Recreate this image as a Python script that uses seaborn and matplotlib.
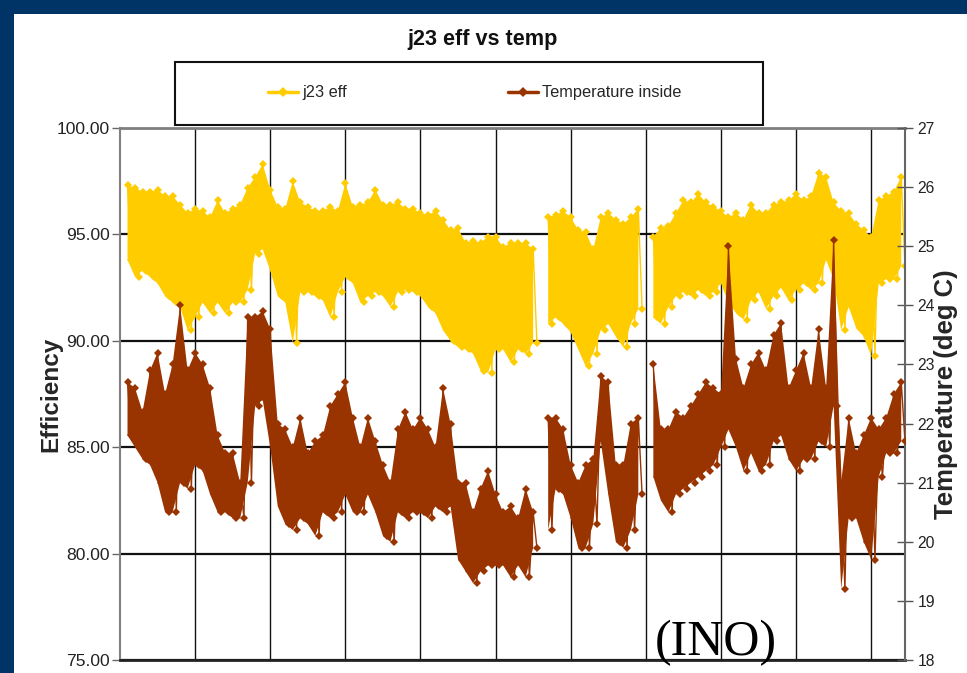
import numpy as np
import pandas as pd
import matplotlib
matplotlib.use("Agg")
import matplotlib.pyplot as plt
from matplotlib import font_manager as fm
from matplotlib.lines import Line2D
from matplotlib.patches import Rectangle
import seaborn as sns

# ---- data: logged every 0.1 day, band envelope (high / low) of each series ----
day = np.round(np.arange(1, 105) * 0.1, 2)
nan = np.nan

eff_hi = [97.3, 97.2, 97.0, 97.0, 97.1, 96.8, 96.8, 96.4, 96.0, 96.2,
          96.1, 95.8, 96.6, 96.0, 96.2, 96.4, 97.2, 97.7, 98.3, 97.1,
          96.3, 96.2, 97.5, 96.5, 96.3, 96.1, 96.1, 96.3, 96.1, 97.4,
          96.3, 96.4, 96.5, 97.1, 96.4, 96.4, 96.5, 96.2, 96.2, 96.0,
          95.9, 96.1, 95.7, 95.2, 95.3, 94.6, 94.7, 94.6, 94.9, 94.9,
          94.4, 94.6, 94.6, 94.6, 94.3, nan, 95.8, 95.9, 96.1, 95.8,
          95.2, 95.1, 94.3, 95.8, 96.0, 95.7, 95.5, 95.8, 96.2, nan,
          94.9, 95.3, 95.4, 96.0, 96.6, 96.5, 96.9, 96.5, 96.3, 96.1,
          95.8, 96.0, 95.7, 96.4, 96.0, 96.0, 96.4, 96.5, 96.6, 96.9,
          96.6, 96.8, 97.9, 97.7, 96.5, 96.1, 96.0, 95.5, 95.2, 94.9,
          96.6, 96.8, 97.0, 97.7]
eff_lo = [93.8, 93.0, 93.3, 93.0, 92.7, 92.1, 91.8, 91.6, 90.5, 91.1,
          91.8, 91.3, 91.8, 91.3, 91.8, 91.8, 92.4, 94.1, 94.3, 93.3,
          92.1, 91.8, 89.9, 92.3, 92.3, 92.1, 91.9, 91.1, 92.3, 93.0,
          92.7, 91.8, 92.1, 92.3, 92.1, 91.6, 92.3, 92.4, 92.3, 92.1,
          91.6, 91.3, 90.5, 90.0, 89.7, 89.6, 89.4, 88.6, 88.5, 89.6,
          89.6, 89.0, 89.6, 89.4, 89.9, nan, 90.8, 91.1, 90.8, 90.4,
          89.6, 88.8, 89.4, 90.5, 90.8, 90.2, 89.7, 90.8, 91.5, nan,
          91.1, 90.8, 91.6, 92.1, 92.3, 92.1, 92.4, 92.1, 92.3, 92.7,
          91.8, 91.3, 91.0, 91.9, 92.3, 91.5, 92.1, 92.5, 91.9, 92.4,
          92.7, 92.4, 92.7, 93.8, 92.9, 90.5, 91.6, 90.6, 90.2, 89.3,
          92.7, 92.9, 92.9, 93.5]

temp_hi = [22.7, 22.6, 22.2, 22.9, 23.2, 22.5, 23.0, 24.0, 22.9, 23.2,
           23.0, 22.6, 21.8, 21.5, 21.5, 21.0, 23.8, 23.8, 23.9, 23.6,
           22.0, 21.9, 21.6, 22.1, 21.5, 21.7, 21.8, 22.3, 22.5, 22.7,
           22.1, 21.6, 22.1, 21.7, 21.3, 21.0, 21.9, 22.2, 21.9, 22.1,
           21.9, 21.6, 22.6, 22.0, 21.0, 21.0, 20.5, 20.9, 21.2, 20.8,
           20.5, 20.6, 20.4, 20.9, 20.5, nan, 22.1, 22.1, 21.9, 21.3,
           21.0, 21.3, 21.4, 22.8, 22.7, 21.3, 21.3, 22.0, 22.1, nan,
           23.0, 21.9, 21.9, 22.2, 22.1, 22.3, 22.5, 22.7, 22.6, 22.5,
           25.0, 23.1, 22.6, 23.0, 23.2, 22.9, 23.5, 23.7, 22.6, 22.9,
           23.2, 22.6, 23.6, 22.6, 25.1, 21.0, 22.1, 21.5, 21.8, 22.1,
           21.9, 22.1, 22.5, 22.7]
temp_lo = [21.8, 21.6, 21.4, 21.3, 21.0, 20.5, 20.5, 21.0, 20.9, 21.3,
           21.2, 20.8, 20.5, 20.5, 20.4, 20.4, 21.0, 22.3, 22.4, 21.6,
           20.6, 20.3, 20.2, 20.4, 20.3, 20.1, 20.5, 20.4, 20.5, 20.8,
           20.5, 20.5, 20.8, 20.5, 20.1, 20.0, 20.5, 20.4, 20.5, 20.5,
           20.4, 20.6, 20.5, 20.6, 19.7, 19.5, 19.3, 19.5, 19.6, 19.6,
           19.6, 19.4, 19.6, 19.4, 19.9, nan, 20.2, 20.9, 20.8, 20.4,
           19.9, 19.9, 20.3, 21.7, 20.8, 20.0, 19.9, 20.2, 20.8, nan,
           21.1, 20.7, 20.5, 20.8, 20.9, 21.0, 21.1, 21.2, 21.3, 21.6,
           21.9, 21.6, 21.2, 21.5, 21.2, 21.3, 21.7, 21.8, 21.4, 21.2,
           21.4, 21.4, 21.7, 21.6, 22.3, 19.2, 20.4, 20.4, 20.0, 19.7,
           21.1, 21.5, 21.5, 21.7]

eff_ticks = [75, 80, 85, 90, 95, 100]
temp_ticks = list(range(18, 28))
day_ticks = list(range(1, 11))
series_names = ["j23 eff", "Temperature inside"]

# ---- style ----
sns.set_style("white")
names = {f.name for f in fm.fontManager.ttflist}
NARROW = "Liberation Sans Narrow" if "Liberation Sans Narrow" in names else "Liberation Sans"
k = 1.0 if NARROW == "Liberation Sans Narrow" else 0.84
plt.rcParams["font.family"] = [NARROW, "DejaVu Sans"]
BOLD_FAMILY = ["Liberation Sans", "DejaVu Sans"]

NAVY = "#003366"
GOLD = "#FFCC00"
BROWN = "#993300"
W, H = 967, 673


def zigzag(hi, lo):
    """Trace high/low points alternately so the line sweeps the band."""
    hi = np.asarray(hi, float)
    lo = np.asarray(lo, float)
    seg = np.cumsum(np.isnan(hi))
    ok = ~np.isnan(hi)
    t = np.column_stack([day, day + 0.05]).ravel()
    v = np.column_stack([hi, lo]).ravel()
    s = np.repeat(seg, 2)
    m = np.repeat(ok, 2)
    return pd.DataFrame({"day": t[m], "value": v[m], "seg": s[m]})


fig = plt.figure(figsize=(W / 100, H / 100), dpi=100)
fig.patch.set_facecolor(NAVY)
fig.add_artist(Rectangle((14 / W, 0), 1, 1 - 14 / H, transform=fig.transFigure,
                         facecolor="white", edgecolor="none", zorder=-1))

ax = fig.add_axes([120 / W, 1 - 660 / H, 785 / W, 532 / H])
ax.set_facecolor("white")
ax2 = ax.twinx()
ax2.patch.set_visible(False)

# efficiency band (left axis)
ax.fill_between(day, np.ma.masked_invalid(eff_lo), np.ma.masked_invalid(eff_hi),
                color=GOLD, lw=0, zorder=2)
sns.lineplot(data=zigzag(eff_hi, eff_lo), x="day", y="value", units="seg",
             estimator=None, sort=False, color=GOLD, lw=1.0, marker="D",
             markersize=4, markeredgewidth=0, ax=ax, legend=False, zorder=3)

# temperature band (right axis)
ax2.fill_between(day, np.ma.masked_invalid(temp_lo), np.ma.masked_invalid(temp_hi),
                 color=BROWN, lw=0, zorder=2)
sns.lineplot(data=zigzag(temp_hi, temp_lo), x="day", y="value", units="seg",
             estimator=None, sort=False, color=BROWN, lw=1.0, marker="D",
             markersize=4, markeredgewidth=0, ax=ax2, legend=False, zorder=3)

# ---- axes ----
ax.set_xlim(0, 10.45)
ax.set_ylim(75, 100)
ax2.set_ylim(18, 27)
ax.set_xticks(day_ticks)
ax.set_xticklabels([])
ax.set_yticks(eff_ticks)
ax.set_yticklabels([f"{v:.2f}" for v in eff_ticks])
ax2.set_yticks(temp_ticks)
ax2.set_yticklabels([str(v) for v in temp_ticks])

ax.set_axisbelow(True)
ax.grid(axis="y", color="#111111", lw=1.6)
ax.grid(axis="x", color="#111111", lw=1.0)

ax.tick_params(axis="y", direction="out", length=6, width=1, color="#666666",
               labelsize=15 * k, pad=1.5, labelcolor="#222222")
ax.tick_params(axis="x", direction="out", length=8, width=1, color="#222222")
ax2.tick_params(axis="y", direction="inout", length=12, width=1, color="#555555",
                labelsize=13.5 * k, pad=3, labelcolor="#222222")

for name, sp in ax.spines.items():
    sp.set_visible(True)
ax.spines["left"].set_color("#808080")
ax.spines["left"].set_linewidth(1.5)
ax.spines["top"].set_color("#808080")
ax.spines["top"].set_linewidth(2.0)
ax.spines["bottom"].set_color("#222222")
ax.spines["bottom"].set_linewidth(2.0)
ax.spines["right"].set_visible(False)
for name, sp in ax2.spines.items():
    sp.set_visible(name == "right")
ax2.spines["right"].set_color("#666666")
ax2.spines["right"].set_linewidth(1.5)

ax.set_xlabel("")
ax.set_ylabel("Efficiency", fontsize=17.5, fontweight="bold", family=BOLD_FAMILY)
ax.yaxis.set_label_coords(-0.0885, 0.5)
ax.yaxis.label.set_va("center")
ax2.set_ylabel("Temperature (deg C)", fontsize=18.5, fontweight="bold",
               family=BOLD_FAMILY, rotation=90)
ax2.yaxis.set_label_coords(1.0522, 0.5)
ax2.yaxis.label.set_va("center")

# ---- title and legend ----
fig.text(483 / W, 1 - 40 / H, "j23 eff vs temp", ha="center", va="center",
         fontsize=18.5 * k, fontweight="bold", color="#111111")

fig.add_artist(Rectangle((175 / W, 1 - 125 / H), (763 - 175) / W, 63 / H,
                         transform=fig.transFigure, facecolor="white",
                         edgecolor="#111111", lw=1.5, zorder=5))
handles = [Line2D([], [], color=GOLD, lw=2.5, marker="D", ms=5, mew=0),
           Line2D([], [], color=BROWN, lw=2.5, marker="D", ms=5, mew=0)]
leg_fs = 14 * k
leg = fig.legend(handles, series_names, ncol=2, frameon=False, loc="center",
                 bbox_to_anchor=(475 / W, 1 - 93 / H), fontsize=leg_fs,
                 handlelength=1.85, handletextpad=0.25,
                 columnspacing=161 / (leg_fs * 100 / 72), borderpad=0)
leg.set_zorder(6)

fig.text(655 / W, 1 - 655 / H, "(INO)", family=["Liberation Serif", "DejaVu Serif"],
         fontsize=36, ha="left", va="baseline", color="black", zorder=7)

fig.savefig("out.png", dpi=100, facecolor=fig.get_facecolor())
